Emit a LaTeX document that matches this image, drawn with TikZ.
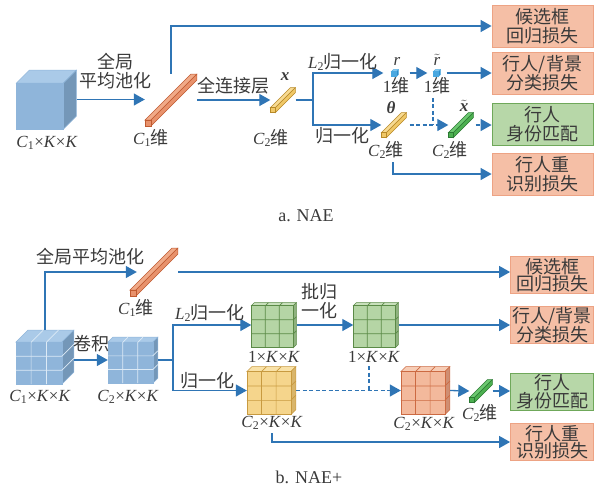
\documentclass[tikz,border=0pt]{standalone}
\usepackage{amsmath}
\usepackage{fontspec}
\setmainfont{Liberation Serif}
\newfontfamily\cjk{Noto Sans CJK SC}
\usetikzlibrary{arrows.meta, positioning, calc}

\definecolor{lnblue}{HTML}{2F75B5}
\definecolor{txtgray}{HTML}{3A3A3A}
\definecolor{bfront}{HTML}{8FB5DA}
\definecolor{btop}{HTML}{AACAE8}
\definecolor{bside}{HTML}{7497B8}
\definecolor{bgrid}{HTML}{DCEAF6}
\definecolor{yfront}{HTML}{F5D58C}
\definecolor{ytop}{HTML}{F9E2A8}
\definecolor{yside}{HTML}{D9B56A}
\definecolor{yline}{HTML}{C89A40}
\definecolor{ofront}{HTML}{F3B99C}
\definecolor{otop}{HTML}{F7CDB6}
\definecolor{oside}{HTML}{CF8E72}
\definecolor{oline}{HTML}{CC6A42}
\definecolor{gfront}{HTML}{B5D5A5}
\definecolor{gtop}{HTML}{C8E0BB}
\definecolor{gside}{HTML}{8FB27F}
\definecolor{gline}{HTML}{5B8A47}
\definecolor{rodo}{HTML}{E8926C}
\definecolor{rodotop}{HTML}{F0AA88}
\definecolor{rodoedge}{HTML}{C05A30}
\definecolor{rody}{HTML}{F0C868}
\definecolor{rodytop}{HTML}{F7DA92}
\definecolor{rodyedge}{HTML}{B88A28}
\definecolor{rodg}{HTML}{4CB050}
\definecolor{rodgtop}{HTML}{6CC870}
\definecolor{rodgedge}{HTML}{2C7A34}
\definecolor{sfront}{HTML}{4AA8E0}
\definecolor{stop}{HTML}{86C8F0}
\definecolor{sside}{HTML}{2E8CC8}
\definecolor{lossfill}{HTML}{F5BFA6}
\definecolor{lossedge}{HTML}{EDA384}
\definecolor{matchfill}{HTML}{B7D7A8}
\definecolor{matchedge}{HTML}{6FA85A}

% labels
\newcommand{\zh}[1]{{\cjk\fontsize{18}{19}\selectfont #1}}
\newcommand{\ckk}[1]{\textit{C}\textsubscript{#1}×\textit{K}×\textit{K}}
\newcommand{\cwei}[1]{\textit{C}\textsubscript{#1}\zh{维}}
\newcommand{\kk}{1×\textit{K}×\textit{K}}
\newcommand{\bvec}[1]{\textbf{\textit{#1}}}

% name, centre, w, h, depth, front, top, side, edge
\newcommand{\featcube}[9]{%
  \node[inner sep=0pt, minimum width=#3pt+#5pt, minimum height=#4pt+#5pt] (#1) at #2 {};
  \filldraw[fill=#7, draw=#9, line width=0.5pt] ($(#1.south west)+(0,-#4)$) -- ++(#5,-#5) -- ++(#3,0) -- ++(-#5,#5) -- cycle;
  \filldraw[fill=#8, draw=#9, line width=0.5pt] ($(#1.south west)+(#3,0)$) -- ++(0,-#4) -- ++(#5,-#5) -- ++(0,#4) -- cycle;
  \filldraw[fill=#6, draw=#9, line width=0.5pt] (#1.south west) rectangle ++(#3,-#4);
}
% name, w, h, depth, colour
\newcommand{\cubegrid}[5]{%
  \foreach \k in {1,2} {
    \draw[#5, line width=0.7pt] ($(#1.south west)+(\k*#2/3,0)$) -- ++(0,-#3) -- ++(#4,-#4);
    \draw[#5, line width=0.7pt] ($(#1.south west)+(0,-\k*#3/3)$) -- ++(#2,0) -- ++(#4,-#4);
  }
}
% name, centre, section, length, end, top, side, edge
\newcommand{\featrod}[8]{%
  \node[inner sep=0pt, minimum width=#3pt+#4pt, minimum height=#3pt+#4pt] (#1) at #2 {};
  \filldraw[fill=#6, draw=#8, line width=0.5pt] ($(#1.south west)+(0,-#3)$) -- ++(#4,-#4) -- ++(#3,0) -- ++(-#4,#4) -- cycle;
  \filldraw[fill=#7, draw=#8, line width=0.5pt] ($(#1.south west)+(#3,0)$) -- ++(#4,-#4) -- ++(0,-#3) -- ++(-#4,#4) -- cycle;
  \filldraw[fill=#5, draw=#8, line width=0.5pt] (#1.south west) rectangle ++(#3,-#3);
}

\begin{document}
\begin{tikzpicture}[
    x=1pt, y=-1pt,
    font=\fontsize{17}{19}\selectfont,
    every node/.style={text=txtgray},
    zhlbl/.style={font=\cjk\fontsize{18}{19}\selectfont, align=center, inner sep=1pt},
    loss/.style={draw=lossedge, fill=lossfill, line width=0.8pt, inner sep=0pt, align=center, minimum width=101pt, minimum height=42pt, font=\cjk\fontsize{18}{18.5}\selectfont},
    match/.style={loss, draw=matchedge, fill=matchfill},
    lossb/.style={loss, minimum width=83pt, minimum height=37pt, font=\cjk\fontsize{18}{17.5}\selectfont},
    matchb/.style={lossb, draw=matchedge, fill=matchfill},
    link/.style={line width=1.3pt, draw=lnblue},
    arr/.style={link, -{Triangle[length=11pt, width=12pt]}},
    dlink/.style={link, dash pattern=on 4pt off 2.5pt},
    darr/.style={arr, dash pattern=on 4pt off 2.5pt}
  ]
  \useasboundingbox (0,0) rectangle (594,491);

  % a. NAE: features
  \featcube{ca}{(46.5,99.5)}{47}{46}{13}{bfront}{btop}{bside}{bfront}
  \node (lblca) at (47,143) {\ckk{1}};
  \featrod{rodc1}{(171,100)}{6}{46}{rodo}{rodotop}{rodo}{rodoedge}
  \node (lblc1) at (151,138) {\cwei{1}};
  \featrod{rodx}{(283,100)}{5}{20}{rody}{rodytop}{rody}{rodyedge}
  \node (lblxb) at (285,77) {\bvec{x}};
  \node (lblx) at (271,138) {\cwei{2}};
  \featcube{cr}{(395,73)}{5}{5}{2}{sfront}{stop}{sside}{sfront}
  \node (lblrs) at (397,61) {\textit{r}};
  \node (lblr) at (396,86) {1\zh{维}};
  \featcube{crt}{(437,73)}{5}{5}{2}{sfront}{stop}{sside}{sfront}
  \node (lblrts) at (437,60) {$\tilde{\mbox{\textit{r}}}$};
  \node (lblrt) at (437,86) {1\zh{维}};
  \featrod{rodth}{(394,125)}{5}{20}{rody}{rodytop}{rody}{rodyedge}
  \node (lblths) at (391,108) {\bvec{θ}};
  \node (lblth) at (386,150) {\cwei{2}};
  \featrod{rodxt}{(461,125)}{5}{20}{rodg}{rodgtop}{rodg}{rodgedge}
  \node[inner sep=0pt] (lblxts) at (464,106) {$\tilde{\mbox{\bvec{x}}}$};
  \node (lblxt) at (450,150) {\cwei{2}};

  % a. NAE: losses
  \node[loss] (boxa1) at (542.5,26) {候选框\\回归损失};
  \node[loss] (boxa2) at (542.5,73) {行人/背景\\分类损失};
  \node[match] (boxa3) at (542.5,124) {行人\\身份匹配};
  \node[loss] (boxa4) at (542.5,174) {行人重\\识别损失};

  % a. NAE: arrows
  \draw[arr] (ca.east) -- (ca.east -| rodc1.west);
  \node[zhlbl] (lblpool) at (115,71) {全局\\平均池化};
  \draw[arr] (rodc1.north) |- (boxa1.west);
  \draw[arr] (rodc1.east) -- (rodc1.east -| rodx.west);
  \node[zhlbl] (lblfc) at (233,86) {全连接层};
  \coordinate (spa) at (313,100);
  \draw[link] (rodx.east) -- (spa);
  \draw[arr, shorten >=8pt] (spa) |- (cr.west);
  \draw[arr] (spa) |- (rodth.west);
  \node (lbll2a) at (343,62) {\textit{L}\textsubscript{2}\zh{归一化}};
  \node[zhlbl] (lblnorma) at (342,136) {归一化};
  \draw[arr, shorten <=11pt, shorten >=6pt] (cr.east) -- (crt.west);
  \draw[arr, shorten <=6pt] (crt.east) -- (crt.east -| boxa2.west);
  \coordinate (dja) at (433,125);
  \draw[dlink] (lblrt.south -| dja) -- (dja);
  \draw[darr, shorten <=3pt] (rodth.east) -- (rodxt.west);
  \draw[darr, shorten <=2pt] (rodxt.east) -- (rodxt.east -| boxa3.west);
  \draw[arr] ([xshift=7pt]lblth.south) |- (boxa4.west);

  \node[font=\fontsize{18}{20}\selectfont] (capa) at (306,216) {a. NAE};

  % b. NAE+: features
  \featcube{cb1}{(45,357)}{46}{42}{12}{bfront}{btop}{bside}{bfront}
  \cubegrid{cb1}{46}{42}{12}{bgrid}
  \node (lblcb1) at (40,397) {\ckk{1}};
  \featcube{cb2}{(133,360)}{45}{41}{5}{bfront}{btop}{bside}{bfront}
  \cubegrid{cb2}{45}{41}{5}{bgrid}
  \node (lblcb2) at (128,397) {\ckk{2}};
  \featrod{rodb}{(154,272)}{6}{42}{rodo}{rodotop}{rodo}{rodoedge}
  \node (lblrodb) at (136,308) {\cwei{1}};
  \featcube{gg1}{(274,325)}{42}{42}{3}{gfront}{gtop}{gside}{gline}
  \cubegrid{gg1}{42}{42}{3}{gline}
  \node (lblgg1) at (274,357) {\kk};
  \featcube{gg2}{(376,325)}{42}{42}{3}{gfront}{gtop}{gside}{gline}
  \cubegrid{gg2}{42}{42}{3}{gline}
  \node (lblgg2) at (374,357) {\kk};
  \featcube{yc}{(271.5,390.5)}{44}{43}{5}{yfront}{ytop}{yside}{yline}
  \cubegrid{yc}{44}{43}{5}{yline}
  \node (lblyc) at (272,423) {\ckk{2}};
  \featcube{oc}{(425.5,390.5)}{44}{43}{5}{ofront}{otop}{oside}{oline}
  \cubegrid{oc}{44}{43}{5}{oline}
  \node (lbloc) at (424,424) {\ckk{2}};
  \featrod{rodgb}{(481,391)}{5}{18}{rodg}{rodgtop}{rodg}{rodgedge}
  \node (lblrodg) at (480,413) {\cwei{2}};

  % b. NAE+: losses
  \node[lossb] (boxb1) at (552,275) {候选框\\回归损失};
  \node[lossb] (boxb2) at (552,325) {行人/背景\\分类损失};
  \node[matchb] (boxb3) at (552,391.5) {行人\\身份匹配};
  \node[lossb] (boxb4) at (552,442) {行人重\\识别损失};

  % b. NAE+: arrows
  \draw[arr] (cb1.north) |- ([xshift=7pt]rodb.west);
  \node[zhlbl] (lblpoolb) at (90,257) {全局平均池化};
  \draw[arr] (rodb.east) -- (rodb.east -| boxb1.west);
  \draw[arr] (cb1.east |- cb2.west) -- (cb2.west);
  \node[zhlbl] (lblconv) at (91,344) {卷积};
  \coordinate (spb) at (173,360);
  \draw[link] (cb2.east) -- (spb);
  \draw[arr] (spb) |- (gg1.west);
  \draw[arr] (spb) |- (yc.west);
  \node (lbll2b) at (210,313) {\textit{L}\textsubscript{2}\zh{归一化}};
  \node[zhlbl] (lblnormb) at (207,381) {归一化};
  \draw[arr] (gg1.east) -- (gg2.west);
  \node[zhlbl] (lblbn) at (319,301) {批归\\一化};
  \draw[arr] (gg2.east) -- (gg2.east -| boxb2.west);
  \coordinate (djb) at (369,390.5);
  \draw[dlink] (lblgg2.south -| djb) -- (djb);
  \draw[darr] (yc.east) -- (oc.west);
  \draw[arr] (oc.east) -- (rodgb.west);
  \draw[arr] (rodgb.east) -- (rodgb.east -| boxb3.west);
  \draw[arr] (lblyc.south) |- (boxb4.west);

  \node[font=\fontsize{18}{20}\selectfont] (capb) at (309,477) {b. NAE+};

\end{tikzpicture}
\end{document}
